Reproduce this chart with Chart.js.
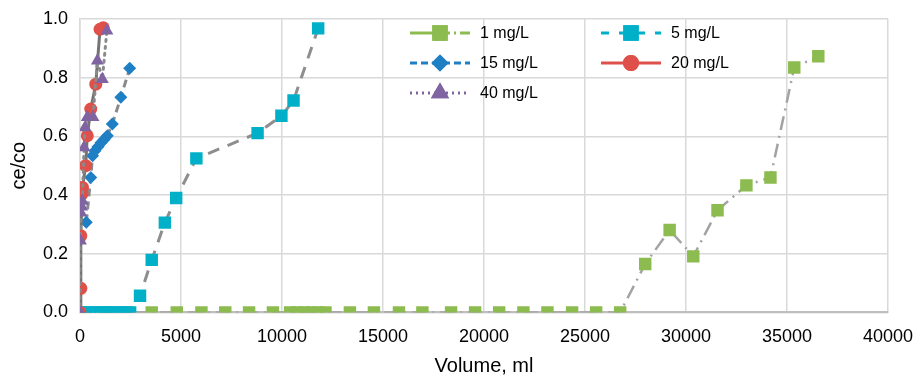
<!DOCTYPE html>
<html>
<head>
<meta charset="utf-8">
<script src="https://cdn.jsdelivr.net/npm/chart.js@4.4.1/dist/chart.umd.min.js"></script>
<style>
	html, body { margin: 0; padding: 0; background: #fff; }
	#wrap { width: 915px; height: 382px; }
</style>
</head>
<body>
<div id="wrap"><canvas id="btChart"></canvas></div>
<script>
const seriesNames = ['1 mg/L', '5 mg/L', '15 mg/L', '20 mg/L', '40 mg/L'];

const vol1 = [1190, 2370, 3550, 4790, 6010, 7190, 8370, 9550, 10400, 10750, 11100, 11450, 11800, 12150,
	13360, 14550, 15790, 16950, 18370, 19560, 20750, 21950, 23140, 24360, 25550, 26740,
	27980, 29190, 30360, 31560, 32990, 34180, 35360, 36550];
const ce1 = [0, 0, 0, 0, 0, 0, 0, 0, 0, 0, 0, 0, 0, 0,
	0, 0, 0, 0, 0, 0, 0, 0, 0, 0, 0, 0,
	0.165, 0.281, 0.191, 0.348, 0.433, 0.46, 0.835, 0.873];

const vol5 = [0, 250, 500, 750, 1000, 1250, 1500, 1750, 2000, 2250, 2480,
	2970, 3550, 4200, 4760, 5760, 8790, 9970, 10570, 11790];
const ce5 = [0, 0, 0, 0, 0, 0, 0, 0, 0, 0, 0,
	0.057, 0.179, 0.306, 0.39, 0.525, 0.611, 0.67, 0.722, 0.968];

const vol15 = [310, 530, 620, 740, 890, 1040, 1190, 1350, 1600, 2020, 2460];
const ce15 = [0.307, 0.46, 0.534, 0.551, 0.565, 0.578, 0.589, 0.602, 0.642, 0.733, 0.832];

const vol20 = [0, 40, 40, 100, 120, 280, 360, 530, 780, 990, 1150];
const ce20 = [0, 0.082, 0.261, 0.404, 0.426, 0.5, 0.602, 0.693, 0.778, 0.965, 0.97];

const vol40 = [0, 20, 40, 80, 114, 200, 250, 360, 640, 860, 1105, 1330];
const ce40 = [0, 0.244, 0.34, 0.36, 0.38, 0.562, 0.63, 0.665, 0.665, 0.858, 0.795, 0.96];

const xTicks = [0, 5000, 10000, 15000, 20000, 25000, 30000, 35000, 40000];
const yTicks = [0, 0.2, 0.4, 0.6, 0.8, 1.0];

const FONT = "'Liberation Sans', Arial, sans-serif";

function toPoints(xs, ys) {
	return xs.map((x, i) => ({ x: x, y: ys[i] }));
}

// Leyenda dentro del area del grafico (como en Excel)
const legendItems = [
	{ ds: 0, x: 410, y: 33, dash: [10, 4, 2, 4], solidHalf: true },
	{ ds: 1, x: 601, y: 33, dash: [8, 10] },
	{ ds: 2, x: 410, y: 63, dash: [7, 4] },
	{ ds: 3, x: 601, y: 63, dash: [] },
	{ ds: 4, x: 410, y: 93, dash: [2, 4] },
];

const insideLegend = {
	id: 'insideLegend',
	afterDatasetsDraw(chart) {
		const ctx = chart.ctx;
		ctx.save();
		legendItems.forEach((it) => {
			const ds = chart.data.datasets[it.ds];
			ctx.strokeStyle = ds.pointBackgroundColor;
			ctx.lineWidth = 3;
			ctx.beginPath();
			if (it.solidHalf) {
				ctx.setLineDash([]);
				ctx.moveTo(it.x, it.y);
				ctx.lineTo(it.x + 30, it.y);
				ctx.stroke();
				ctx.beginPath();
				ctx.setLineDash(it.dash);
				ctx.moveTo(it.x + 30, it.y);
			} else {
				ctx.setLineDash(it.dash);
				ctx.moveTo(it.x, it.y);
			}
			ctx.lineTo(it.x + 60, it.y);
			ctx.stroke();
			ctx.setLineDash([]);
			Chart.helpers.drawPoint(ctx, {
				pointStyle: ds.pointStyle,
				radius: ds.pointRadius,
				borderWidth: 1,
			}, it.x + 30, it.y);
			ctx.fillStyle = ds.pointBackgroundColor;
			ctx.fill();
			ctx.stroke();
			ctx.fillStyle = '#000';
			ctx.font = '16px ' + FONT;
			ctx.textBaseline = 'middle';
			ctx.textAlign = 'left';
			ctx.fillText(ds.label, it.x + 70, it.y + 1);
		});
		ctx.restore();
	},
};

const ctx = document.getElementById('btChart').getContext('2d');

new Chart(ctx, {
	type: 'scatter',
	data: {
		datasets: [
			{
				label: seriesNames[0],
				data: toPoints(vol1, ce1),
				showLine: true,
				borderColor: '#a3a3a3',
				borderWidth: 2.5,
				borderDash: [14, 6, 2, 6],
				pointStyle: 'rect',
				pointRadius: 8.8,
				pointBackgroundColor: '#8cbb4f',
				pointBorderColor: '#8cbb4f',
				pointBorderWidth: 0,
				order: 5,
			},
			{
				label: seriesNames[1],
				data: toPoints(vol5, ce5),
				showLine: true,
				borderColor: '#8e8e8e',
				borderWidth: 3,
				borderDash: [12, 9],
				pointStyle: 'rect',
				pointRadius: 8.8,
				pointBackgroundColor: '#00b0c8',
				pointBorderColor: '#00b0c8',
				pointBorderWidth: 0,
				order: 4,
			},
			{
				label: seriesNames[2],
				data: toPoints(vol15, ce15),
				showLine: true,
				borderColor: '#8a8a8a',
				borderWidth: 3,
				borderDash: [8, 5],
				pointStyle: 'rectRot',
				pointRadius: 6.5,
				pointBackgroundColor: '#1f7fc4',
				pointBorderColor: '#1f7fc4',
				pointBorderWidth: 0,
				order: 3,
			},
			{
				label: seriesNames[3],
				data: toPoints(vol20, ce20),
				showLine: true,
				borderColor: '#747474',
				borderWidth: 3,
				pointStyle: 'circle',
				pointRadius: 6.5,
				pointBackgroundColor: '#e0504a',
				pointBorderColor: '#e0504a',
				pointBorderWidth: 0,
				order: 2,
			},
			{
				label: seriesNames[4],
				data: toPoints(vol40, ce40),
				showLine: true,
				borderColor: '#8a8a8a',
				borderWidth: 3,
				borderDash: [2, 5],
				borderCapStyle: 'round',
				pointStyle: 'triangle',
				pointRadius: 7.5,
				pointBackgroundColor: '#8064a2',
				pointBorderColor: '#8064a2',
				pointBorderWidth: 0,
				order: 1,
			},
		],
	},
	options: {
		responsive: true,
		maintainAspectRatio: false,
		animation: false,
		layout: {
			padding: { top: 19, right: 27, bottom: 0, left: 0 },
		},
		plugins: {
			legend: { display: false },
			tooltip: { enabled: false },
		},
		scales: {
			x: {
				type: 'linear',
				min: 0,
				max: 40000,
				afterBuildTicks: (s) => {
					s.ticks = xTicks.map((v) => ({ value: v }));
				},
				afterFit: (s) => {
					s.paddingLeft = 0;
					s.paddingRight = 0;
				},
				ticks: {
					callback: (v) => String(v),
					font: { family: FONT, size: 18 },
					color: '#000',
					padding: 14,
					maxRotation: 0,
				},
				grid: { color: '#d9d9d9', lineWidth: 1.5, drawTicks: false },
				border: { color: '#bfbfbf', width: 2 },
				title: {
					display: true,
					text: 'Volume, ml',
					font: { family: FONT, size: 20 },
					color: '#000',
					padding: { top: -8, bottom: 4 },
				},
			},
			y: {
				type: 'linear',
				min: 0,
				max: 1,
				afterBuildTicks: (s) => {
					s.ticks = yTicks.map((v) => ({ value: v }));
				},
				afterFit: (s) => {
					s.paddingTop = 0;
					s.paddingBottom = 0;
				},
				ticks: {
					callback: (v) => v.toFixed(1),
					font: { family: FONT, size: 18 },
					color: '#000',
					padding: 12,
				},
				grid: { color: '#d9d9d9', lineWidth: 1.5, drawTicks: false },
				border: { color: '#d9d9d9', width: 1.5 },
				title: {
					display: true,
					text: 'ce/co',
					font: { family: FONT, size: 20 },
					color: '#000',
					padding: { top: 7, bottom: 0 },
				},
			},
		},
	},
	plugins: [insideLegend],
});
</script>
</body>
</html>
